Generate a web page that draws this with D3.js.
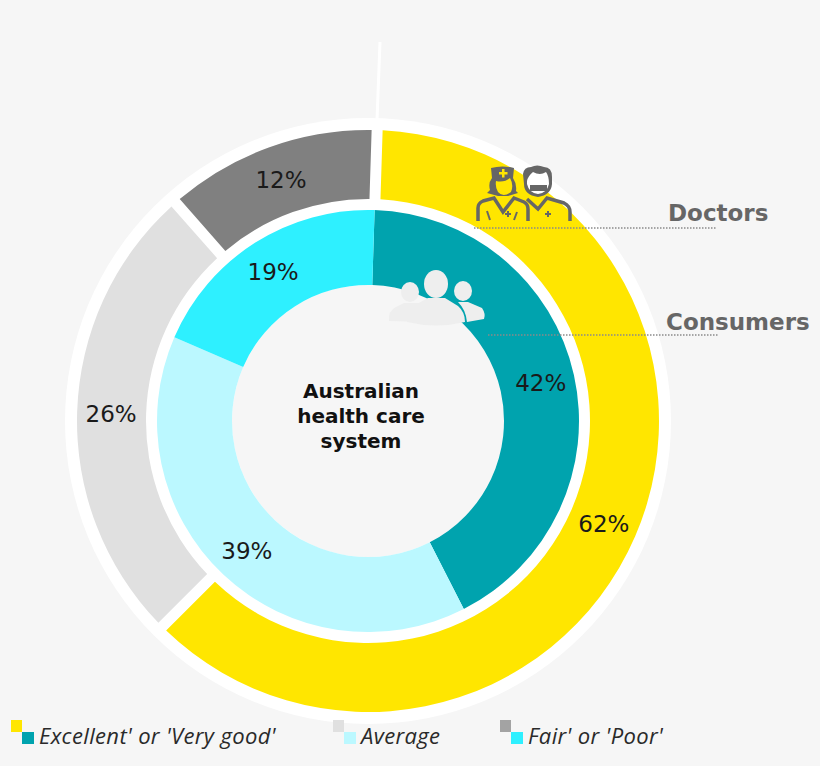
<!DOCTYPE html>
<html lang="en">
<head>
    <meta charset="UTF-8">
    <title>Australian health care system</title>
    <script src="https://d3js.org/d3.v7.min.js"></script>
    <style>
        html, body { margin: 0; background: #f6f6f6; }
        svg { display: block; }
        text { font-family: 'DejaVu Sans', sans-serif; }
        text.pct { fill: #1a1a1a; font-size: 23px; text-anchor: middle; }
        text.centre { fill: #111; font-size: 20px; font-weight: bold; text-anchor: middle; }
        text.ring { fill: #666; font-size: 23px; font-weight: bold; }
        text.legend { fill: #2a2a2a; font-family: 'Open Sans', sans-serif; font-style: italic; font-size: 22px; letter-spacing: 0.35px; }
    </style>
</head>
<body>
<svg width="820" height="766"></svg>
<script>
    const categories = ["Excellent' or 'Very good'", "Average", "Fair' or 'Poor'"];
    const doctors = [62, 26, 12];
    const consumers = [42, 39, 19];
    const doctorColors = ["#ffe600", "#e0e0e0", "#808080"];
    const consumerColors = ["#00a3ae", "#bbf8ff", "#2ef0ff"];
    const legendOuter = ["#ffe600", "#e0e0e0", "#a3a3a3"];
    const legendX = [11, 333, 500];
    const centreLines = ["Australian", "health care", "system"];

    const svg = d3.select("svg");
    const cx = 368, cy = 421;
    const startAngle = 1.8 * Math.PI / 180;

    const pie = d3.pie().sort(null)
        .startAngle(startAngle).endAngle(startAngle + 2 * Math.PI);

    // white disc behind the two rings, the hole shows the page colour
    const g = svg.append("g").attr("transform", `translate(${cx},${cy})`);
    g.append("circle").attr("r", 303).attr("fill", "#fff");
    g.append("circle").attr("r", 136).attr("fill", "#f6f6f6");

    const outerArc = d3.arc().innerRadius(222).outerRadius(291)
        .padRadius(257).padAngle(11 / 257);
    const innerArc = d3.arc().innerRadius(136).outerRadius(211);

    drawRing(doctors, doctorColors, outerArc, 257);
    drawRing(consumers, consumerColors, innerArc, 177);

    function drawRing(values, colors, arc, labelRadius) {
        const slices = pie(values);
        g.selectAll(null).data(slices).enter().append("path")
            .attr("d", arc)
            .attr("fill", (d, i) => colors[i]);
        const labelArc = d3.arc().innerRadius(labelRadius).outerRadius(labelRadius);
        g.selectAll(null).data(slices).enter().append("text")
            .attr("class", "pct")
            .attr("transform", d => `translate(${labelArc.centroid(d)})`)
            .attr("dy", "0.38em")
            .text(d => d.value + "%");
    }

    g.append("text").attr("class", "centre")
        .selectAll("tspan").data(centreLines).enter().append("tspan")
        .attr("x", -7).attr("y", (d, i) => -23 + i * 25)
        .text(d => d);

    // white tick above the ring
    svg.append("line").attr("x1", 380).attr("y1", 42).attr("x2", 377).attr("y2", 120)
        .attr("stroke", "#fff").attr("stroke-width", 3);

    // doctors icon
    const icon = svg.append("g").attr("fill", "#666");
    icon.append("path")
        .attr("d", "M478 221V208Q478 203 483 201L494 198L503 212L514 198L524 202Q528 204 528 209V221")
        .attr("fill", "none").attr("stroke", "#666").attr("stroke-width", 3.5);
    icon.append("path").attr("d", "M527 199L538 209L547 198L564 203Q570 206 570 212V221")
        .attr("fill", "none").attr("stroke", "#666").attr("stroke-width", 3.5);
    icon.append("path").attr("d", "M491 168Q502 165 514 168L513 178Q517 184 516 191L518 193L508 196H498L487 193L490 190Q488 183 492 178Z");
    icon.append("path").attr("d", "M496 181Q504 183 510 178Q514 185 511 192Q503 198 498 192Q495 187 496 181Z").attr("fill", "#ffe600");
    icon.append("path").attr("d", "M502 169h2.5v3h3v2.5h-3v3h-2.5v-3h-3v-2.5h3Z").attr("fill", "#ffe600");
    icon.append("path").attr("d", "M523 174Q524 167 531 167Q537 164 544 167Q552 167 552 177V184Q551 195 538 197Q524 195 524 184Z");
    icon.append("path").attr("d", "M527 181Q528 176 533 172Q540 176 546 172Q549 176 549 184Q547 193 538 194Q529 193 527 184Z").attr("fill", "#fff");
    icon.append("path").attr("d", "M530 185H547V191H530Z");
    icon.selectAll(null).data(["M487 211L490 220", "M517 212L514 220", "M505 214h6M508 211v6", "M545 214h6M548 211v6"])
        .enter().append("path").attr("d", d => d)
        .attr("fill", "none").attr("stroke", "#666").attr("stroke-width", 2);

    // consumers icon
    const people = svg.append("g").attr("fill", "#eeeeee");
    people.append("ellipse").attr("cx", 410).attr("cy", 292).attr("rx", 9).attr("ry", 10);
    people.append("path").attr("d", "M389 321Q388 311 396 307L404 303H418L428 309L424 322Z");
    people.append("ellipse").attr("cx", 436).attr("cy", 284).attr("rx", 12).attr("ry", 14);
    people.append("path").attr("d", "M407 322Q406 310 415 305L428 298L445 298L458 306Q465 312 465 322Q436 329 407 322Z");
    people.append("ellipse").attr("cx", 463).attr("cy", 291).attr("rx", 9).attr("ry", 10);
    people.append("path").attr("d", "M458 302H468L482 308Q486 314 484 319L467 322Q466 310 458 302Z");

    // ring names and their leaders
    const ringNames = [
        {name: "Doctors", x: 668, y: 221, lx1: 474, lx2: 716, ly: 228},
        {name: "Consumers", x: 666, y: 330, lx1: 488, lx2: 718, ly: 335}
    ];
    ringNames.forEach(r => {
        svg.append("text").attr("class", "ring").attr("x", r.x).attr("y", r.y).text(r.name);
        svg.append("line").attr("x1", r.lx1).attr("x2", r.lx2).attr("y1", r.ly).attr("y2", r.ly)
            .attr("stroke", "#8a8a8a").attr("stroke-width", 1.5).attr("stroke-dasharray", "1.5,1.5");
    });

    // legend
    categories.forEach((c, i) => {
        const x = legendX[i];
        svg.append("rect").attr("x", x).attr("y", 720).attr("width", 11).attr("height", 12).attr("fill", legendOuter[i]);
        svg.append("rect").attr("x", x + 11).attr("y", 732).attr("width", 12).attr("height", 12).attr("fill", consumerColors[i]);
        svg.append("text").attr("class", "legend").attr("x", x + 28).attr("y", 744).text(c);
    });
</script>
</body>
</html>
